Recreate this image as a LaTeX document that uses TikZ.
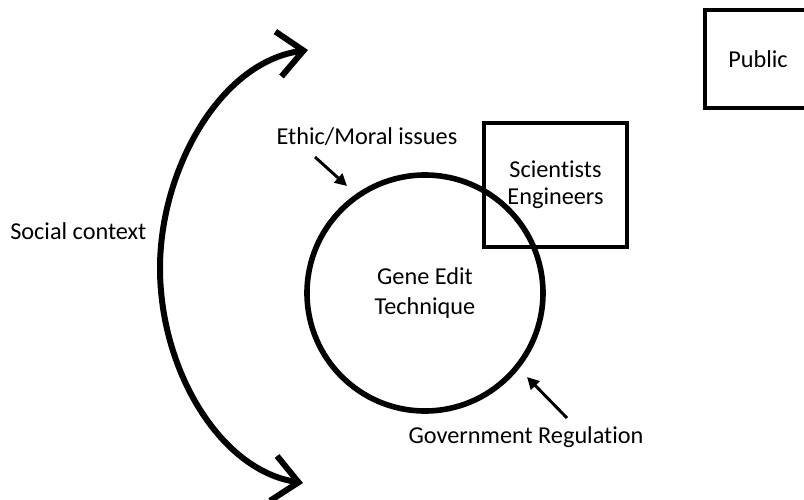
\documentclass[tikz,border=0pt]{standalone}
\usepackage{fontspec}
\setmainfont{Carlito}[Ligatures=NoCommon]
\usetikzlibrary{arrows.meta}
\begin{document}
\begin{tikzpicture}[x=0.75pt,y=-0.75pt,
  lbl/.style={font=\fontsize{18.2}{22}\selectfont, inner sep=0pt},
  boxnode/.style={draw, line width=3pt, rectangle, inner sep=0pt, align=center},
  smallarrow/.style={line width=2.2pt, -{Triangle[length=9pt,width=9pt]}},
  bigarrow/.style={line width=4.5pt, {Straight Barb[length=19pt,width=34pt]}-{Straight Barb[length=19pt,width=34pt]}}
]
\useasboundingbox (0,0) rectangle (804,500);
\fill[white] (0,0) rectangle (804,500);
% gene edit circle
\node[draw, circle, line width=4.2pt, minimum size=177pt, inner sep=0pt, align=center,
      font=\fontsize{18.2}{22.5}\selectfont] (gene) at (425,293) {Gene Edit\\Technique};
% scientists box
\node[boxnode, minimum width=107pt, minimum height=93pt,
      font=\fontsize{18.2}{20.5}\selectfont] (sci) at (555.5,185) {Scientists\\Engineers};
% public box
\node[boxnode, minimum width=80pt, minimum height=73pt, lbl, anchor=center] (pub) at (758,59) {Public};
% labels
\node[lbl] (ethic) at (367,137) {Ethic/Moral issues};
\node[lbl] (gov) at (526,437) {Government Regulation};
\node[lbl, anchor=west] (soc) at (10,231) {Social context};
% small arrows
\coordinate (e1) at (315,157);
\coordinate (e2) at (347,186);
\draw[smallarrow] (e1) -- (e2);
\coordinate (g1) at (567,418);
\coordinate (g2) at (527,377);
\draw[smallarrow] (g1) -- (g2);
% big double arrow
\coordinate (top) at (308,50);
\coordinate (mid) at (160,268);
\coordinate (bot) at (303,483);
\draw[bigarrow] (top) .. controls (220,62) and (160,170) .. (mid)
                      .. controls (160,370) and (220,470) .. (bot);
\end{tikzpicture}
\end{document}
